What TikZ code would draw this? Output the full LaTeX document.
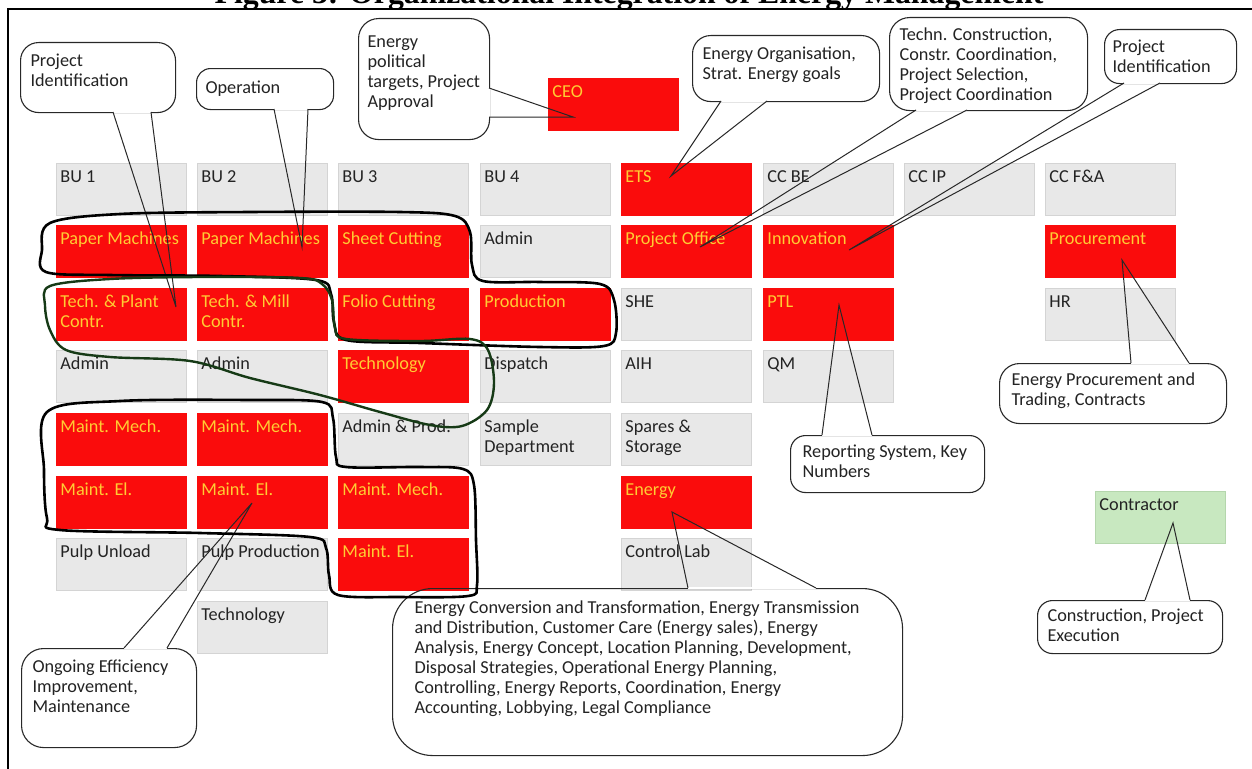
\documentclass[tikz,border=0pt]{standalone}
\usepackage{fontspec}
\setmainfont{Carlito}
\newfontfamily\serifbf{Liberation Serif}
\usetikzlibrary{calc}
\definecolor{cred}{RGB}{250,12,12}
\definecolor{cyel}{RGB}{255,204,51}
\definecolor{cgrey}{RGB}{232,232,232}
\definecolor{cgreyb}{RGB}{212,212,212}
\definecolor{cgreen}{RGB}{200,232,192}
\definecolor{cgreenb}{RGB}{180,214,172}
\definecolor{ctext}{RGB}{35,35,35}
\definecolor{cline}{RGB}{40,40,40}
\definecolor{cgloop}{RGB}{22,58,22}
\newcommand\boxtext[5]{\parbox[c][#2][t]{#1}{\leftskip=#3\relax\rightskip=0pt plus 1fill\relax\parfillskip=0pt plus 1fil\relax\rule{0pt}{#4}#5}}
\newcommand\mkcell[4]{\node[#1] (#2) at (#3) {\boxtext{130pt}{52pt}{4pt}{19pt}{#4}};}
\newcommand\mkcall[9]{\node[callout, rounded corners=#6pt] (#1) at (#2,#3) {\boxtext{#4pt}{#5pt}{#7pt}{#8pt}{#9}};}
\newcommand\ml[1]{\mbox{#1}}
\tikzset{
  cell/.style={rectangle, anchor=north west, inner sep=0pt, line width=0.8pt},
  redcell/.style={cell, fill=cred, draw=cred, text=cyel},
  greycell/.style={cell, fill=cgrey, draw=cgreyb, text=ctext},
  greencell/.style={cell, fill=cgreen, draw=cgreenb, text=ctext},
  callout/.style={rectangle, anchor=north west, inner sep=0pt, draw=cline, line width=1.1pt, text=ctext},
  ptr/.style={draw=cline, line width=1pt, line join=miter},
  gap/.style={draw=white, line width=2.8pt},
  loopk/.style={draw=black, line width=2.6pt},
  loopg/.style={draw=cgloop, line width=2.4pt},
  frame/.style={draw=black, line width=1.4pt},
}
\begin{document}
\begin{tikzpicture}[x=1pt, y=-1pt, font=\fontsize{18.25}{20}\selectfont]
\useasboundingbox (0,0) rectangle (1252,768);
\fill[white] (0,0) rectangle (1252,768);
% title and frame
\node[font=\serifbf\bfseries\fontsize{31.8}{36}\selectfont, anchor=base, inner sep=0pt] (title) at (629,4) {Figure 3: Organizational Integration of Energy Management};
\coordinate (fr) at (1260,9);
\coordinate (ftl) at (8,9);
\coordinate (fb) at (8,775);
\draw[frame] (fr) -- (ftl) -- (fb);
% grid cells
\mkcell{redcell}{ceo}{548,78}{CEO}
\mkcell{greycell}{b1}{56,163}{BU 1}
\mkcell{redcell}{pm1}{56,225}{Paper Machines}
\mkcell{redcell}{tp1}{56,288}{\ml{Tech. \& Plant}\\\ml{Contr.}}
\mkcell{greycell}{ad1}{56,350}{Admin}
\mkcell{redcell}{mm1}{56,413}{Maint. Mech.}
\mkcell{redcell}{me1}{56,476}{Maint. El.}
\mkcell{greycell}{pu1}{56,538}{Pulp Unload}
\mkcell{greycell}{b2}{197,163}{BU 2}
\mkcell{redcell}{pm2}{197,225}{Paper Machines}
\mkcell{redcell}{tm2}{197,288}{\ml{Tech. \& Mill}\\\ml{Contr.}}
\mkcell{greycell}{ad2}{197,350}{Admin}
\mkcell{redcell}{mm2}{197,413}{Maint. Mech.}
\mkcell{redcell}{me2}{197,476}{Maint. El.}
\mkcell{greycell}{pp2}{197,538}{Pulp Production}
\mkcell{greycell}{te2}{197,601}{Technology}
\mkcell{greycell}{b3}{338,163}{BU 3}
\mkcell{redcell}{sc3}{338,225}{Sheet Cutting}
\mkcell{redcell}{fc3}{338,288}{Folio Cutting}
\mkcell{redcell}{te3}{338,350}{Technology}
\mkcell{greycell}{ap3}{338,413}{Admin \& Prod.}
\mkcell{redcell}{mm3}{338,476}{Maint. Mech.}
\mkcell{redcell}{me3}{338,538}{Maint. El.}
\mkcell{greycell}{b4}{480,163}{BU 4}
\mkcell{greycell}{ad4}{480,225}{Admin}
\mkcell{redcell}{pr4}{480,288}{Production}
\mkcell{greycell}{di4}{480,350}{Dispatch}
\mkcell{greycell}{sd4}{480,413}{\ml{Sample}\\\ml{Department}}
\mkcell{redcell}{ets}{621,163}{ETS}
\mkcell{redcell}{po}{621,225}{Project Office}
\mkcell{greycell}{she}{621,288}{SHE}
\mkcell{greycell}{aih}{621,350}{AIH}
\mkcell{greycell}{sps}{621,413}{\ml{Spares \&}\\\ml{Storage}}
\mkcell{redcell}{en}{621,476}{Energy}
\mkcell{greycell}{cl}{621,538}{Control Lab}
\mkcell{greycell}{ccbe}{763,163}{CC BE}
\mkcell{redcell}{inn}{763,225}{Innovation}
\mkcell{redcell}{ptl}{763,288}{PTL}
\mkcell{greycell}{qm}{763,350}{QM}
\mkcell{greycell}{ccip}{904,163}{CC IP}
\mkcell{greycell}{ccfa}{1045,163}{CC F\&A}
\mkcell{redcell}{proc}{1045,225}{Procurement}
\mkcell{greycell}{hr}{1045,288}{HR}
\mkcell{greencell}{con}{1095,491}{Contractor}
% callouts
\mkcall{kpil}{20}{42}{155}{70}{18}{10}{24}{\ml{Project}\\\ml{Identification}}
\mkcall{kop}{196}{68}{137}{41}{14}{9}{25}{\ml{Operation}}
\mkcall{kpol}{358}{18}{131}{121}{20}{9}{29}{\ml{Energy}\\\ml{political}\\\ml{targets, Project}\\\ml{Approval}}
\mkcall{kets}{692}{35}{187}{66}{18}{10}{24}{\ml{Energy Organisation,}\\\ml{Strat. Energy goals}}
\mkcall{ktec}{889}{17}{198}{93}{20}{10}{23}{\ml{Techn. Construction,}\\\ml{Constr. Coordination,}\\\ml{Project Selection,}\\\ml{Project Coordination}}
\mkcall{kpir}{1104}{29}{132}{54}{15}{8}{23}{\ml{Project}\\\ml{Identification}}
\mkcall{krep}{790}{435}{194}{57}{15}{12}{22}{\ml{Reporting System, Key}\\\ml{Numbers}}
\mkcall{kepr}{999}{363}{227}{60}{20}{12}{22}{\ml{Energy Procurement and}\\\ml{Trading, Contracts}}
\mkcall{kcon}{1037}{600}{185}{53}{15}{10}{21}{\ml{Construction, Project}\\\ml{Execution}}
\mkcall{keng}{392}{588}{510}{167}{40}{22}{25}{\ml{Energy Conversion and Transformation, Energy Transmission}\\\ml{and Distribution, Customer Care (Energy sales), Energy}\\\ml{Analysis, Energy Concept, Location Planning, Development,}\\\ml{Disposal Strategies, Operational Energy Planning,}\\\ml{Controlling, Energy Reports, Coordination, Energy}\\\ml{Accounting, Lobbying, Legal Compliance}}
\mkcall{kong}{21}{648}{175}{99}{22}{11}{24}{\ml{Ongoing Efficiency}\\\ml{Improvement,}\\\ml{Maintenance}}
% pointer coordinates
\coordinate (pil1) at (113,112); \coordinate (pil2) at (151,112); \coordinate (tpil) at (176,307);
\coordinate (op1) at (274,109); \coordinate (op2) at (308,109); \coordinate (top) at (302,247);
\coordinate (pol1) at (489,88); \coordinate (pol2) at (489,117); \coordinate (tpol) at (573,117);
\coordinate (ets1) at (721,101); \coordinate (ets2) at (767,101); \coordinate (tets) at (671,176);
\coordinate (tec1) at (916,110); \coordinate (tec2) at (967,110); \coordinate (ttec) at (700,247);
\coordinate (pir1) at (1124,83); \coordinate (pir2) at (1160,83); \coordinate (tpir) at (849,250);
\coordinate (rep1) at (822,435); \coordinate (rep2) at (872,435); \coordinate (trep) at (839,305);
\coordinate (epr1) at (1131,363); \coordinate (epr2) at (1189,363); \coordinate (tepr) at (1122,260);
\coordinate (eng1) at (688,588); \coordinate (eng2) at (816,588); \coordinate (teng) at (672,512);
\coordinate (con1) at (1145,600); \coordinate (con2) at (1190,600); \coordinate (tcon) at (1173,523);
\coordinate (ong1) at (124,648); \coordinate (ong2) at (167,648); \coordinate (tong) at (252,503);
\foreach \p in {pil,op,pol,ets,tec,pir,rep,epr,eng,con,ong}{
  \draw[gap] (\p1) -- (\p2);
  \draw[ptr] (\p1) -- (t\p) -- (\p2);
}
% hand-drawn loops
\draw[loopk] plot[smooth cycle, tension=0.55] coordinates {(42,250) (50,223) (120,214) (250,212) (400,212) (455,216) (470,232) (472,265) (483,281) (540,282) (600,284) (614,300) (616,333) (604,346) (540,347) (420,343) (346,340) (334,322) (331,294) (316,280) (220,276) (110,275) (46,272)};
\draw[loopg] plot[smooth cycle, tension=0.55] coordinates {(50,286) (110,279) (200,277) (300,278) (322,284) (332,300) (335,328) (346,339) (420,341) (470,339) (488,350) (494,383) (487,410) (462,426) (430,425) (380,412) (320,395) (250,378) (190,361) (110,357) (66,350) (50,330) (45,305)};
\draw[loopk] plot[smooth cycle, tension=0.55] coordinates {(47,412) (120,401) (250,400) (322,402) (333,418) (336,457) (346,467) (420,467) (463,469) (474,485) (476,540) (477,585) (468,596) (400,597) (338,595) (329,575) (326,548) (310,537) (200,533) (60,530) (47,518) (44,470)};
\end{tikzpicture}
\end{document}
